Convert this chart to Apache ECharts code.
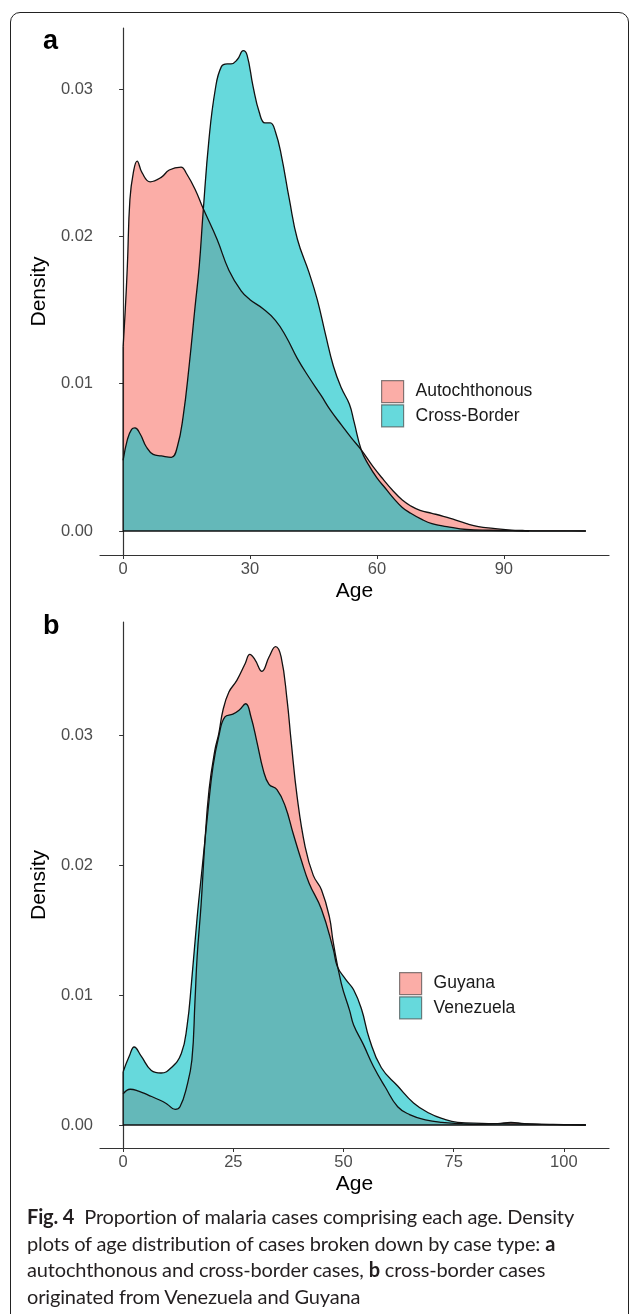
<!DOCTYPE html>
<html>
<head>
<meta charset="utf-8">
<script src="https://cdn.jsdelivr.net/npm/echarts@6/dist/echarts.min.js"></script>
<style>
  html, body { margin: 0; padding: 0; background: #fff; }
  #wrap { position: relative; width: 630px; height: 1314px; overflow: hidden; }
  #chart { position: absolute; left: 0; top: 0; width: 630px; height: 1314px; }
  #frame { position: absolute; left: 10px; top: 12px; width: 619px; height: 1320px;
           border: 1.3px solid #222; border-radius: 10px; box-sizing: border-box; pointer-events: none; }
  #cap { position: absolute; left: 27px; top: 1203px; width: 600px; font-family: Lato, "Noto Sans", sans-serif;
         font-size: 20px; letter-spacing: -0.15px; line-height: 26.7px; color: #231f20; white-space: nowrap; }
</style>
</head>
<body>
<div id="wrap">
  <div id="frame"></div>
  <div id="chart"></div>
  <div id="cap"><b>Fig. 4</b>&nbsp; Proportion of malaria cases comprising each age. Density<br>plots of age distribution of cases broken down by case type: <b>a</b><br>autochthonous and cross-border cases, <b>b</b> cross-border cases<br>originated from Venezuela and Guyana</div>
</div>
<script>
// panel a : autochthonous vs cross-border
const ageAuto = [0, 0.5, 1, 1.6, 2.4, 3.3, 4.5, 6.4, 9, 10.9, 13.7, 14.9, 17, 18.9, 22.2, 25, 27.9, 30, 33, 36, 38.5, 41.2, 44, 46.8, 49, 51.6, 54, 56.3, 59, 61.5, 63.9, 66, 68, 70.2, 73, 75.7, 78, 81.2, 84, 87.5, 91, 95, 100, 105, 109.4];
const densAuto = [0.0125, 0.0150, 0.0180, 0.0225, 0.0243, 0.0251, 0.0243, 0.0237, 0.0240, 0.0245, 0.0247, 0.0243, 0.0232, 0.0219, 0.0198, 0.0177, 0.0163, 0.0157, 0.0151, 0.0143, 0.0132, 0.0117, 0.0104, 0.0092, 0.0082, 0.0072, 0.0063, 0.0055, 0.0044, 0.0035, 0.0027, 0.0021, 0.0017, 0.0014, 0.0012, 0.0010, 0.0008, 0.0005, 0.0003, 0.00018, 0.00008, 0.00003, 0.00001, 0.000005, 0];
const ageCross = [0, 1, 2, 2.8, 4, 5.5, 7.1, 9, 11.4, 12.8, 14.2, 15.6, 17, 18, 18.9, 20.3, 21.8, 23.2, 24.6, 25.5, 27, 28.4, 29.3, 30.7, 32.2, 33.5, 34.8, 36, 37.4, 39.3, 41.2, 44, 45.9, 47.8, 49.7, 51.6, 53.5, 54.6, 56.3, 58, 60, 62, 64, 66, 68, 70.5, 73, 76.5, 81.2, 87, 92, 96];
const densCross = [0.0048, 0.0062, 0.0069, 0.0070, 0.0066, 0.0057, 0.0052, 0.0051, 0.0050, 0.0057, 0.0078, 0.0112, 0.0152, 0.0180, 0.0216, 0.0266, 0.0300, 0.0315, 0.0317, 0.0317, 0.0320, 0.0326, 0.0323, 0.0302, 0.0284, 0.0277, 0.0277, 0.0271, 0.0255, 0.0225, 0.0198, 0.0175, 0.0157, 0.0134, 0.0112, 0.0097, 0.0086, 0.0074, 0.0055, 0.0045, 0.0036, 0.0029, 0.0022, 0.0016, 0.0012, 0.0008, 0.0005, 0.0003, 0.0001, 0.00005, 0.00002, 0];
const maxAgeA = 109.4;
const xTicksA = [0, 30, 60, 90];

// panel b : Guyana vs Venezuela
const ageGuy = [0, 1.6, 3.5, 5.7, 8.4, 10, 11.8, 12.9, 14.4, 15.6, 16.3, 16.8, 17.7, 18.5, 19.5, 20.8, 21.7, 22.65, 24, 25.8, 27.7, 28.75, 29.9, 31.5, 33.1, 34.6, 35.85, 37.2, 38.1, 39.5, 41.3, 43.15, 45, 46.8, 47.7, 49.5, 51.4, 52.3, 54.5, 56.8, 59.5, 62.3, 65, 68.6, 72.3, 76.8, 80, 85, 88, 91, 95, 100, 105];
const densGuy = [0.0024, 0.00275, 0.0026, 0.0023, 0.0019, 0.0016, 0.0012, 0.0014, 0.0029, 0.0050, 0.0095, 0.0130, 0.0170, 0.0215, 0.0258, 0.0288, 0.0301, 0.0319, 0.0333, 0.0342, 0.0355, 0.0362, 0.0358, 0.0349, 0.0360, 0.0368, 0.0360, 0.0327, 0.0296, 0.0252, 0.0214, 0.0192, 0.0181, 0.0160, 0.0140, 0.0109, 0.0088, 0.0077, 0.0062, 0.0045, 0.0029, 0.0014, 0.0008, 0.0004, 0.0002, 0.0001, 0.00005, 0.0001, 0.0002, 0.0001, 0.00005, 0.00002, 0];
const ageVen = [0, 1.4, 2.5, 4.1, 6.4, 8.6, 10.9, 13.2, 14.5, 15.5, 16.8, 18, 19.2, 20.4, 21.7, 23.1, 24.9, 26.3, 27.8, 29, 30.4, 31.8, 33.1, 34.9, 36.8, 38.6, 40.4, 42.2, 45, 47.7, 48.6, 50.5, 52.3, 54.1, 55.9, 58.6, 62.3, 65.9, 69.5, 72.3, 75.9, 81.4, 86, 90, 95, 100, 105];
const densVen = [0.0041, 0.0053, 0.0060, 0.0053, 0.0042, 0.0040, 0.0044, 0.0055, 0.0076, 0.0109, 0.0160, 0.0200, 0.0240, 0.0276, 0.0299, 0.0314, 0.0316, 0.0319, 0.0324, 0.0314, 0.0294, 0.0273, 0.0262, 0.0258, 0.0245, 0.0224, 0.0204, 0.0186, 0.0166, 0.0135, 0.0122, 0.0112, 0.0104, 0.0089, 0.0066, 0.0044, 0.0030, 0.0017, 0.0009, 0.0005, 0.0002, 0.00013, 0.0001, 0.00008, 0.00005, 0.00003, 0];
const maxAgeB = 105;
const xTicksB = [0, 25, 50, 75, 100];

const yTicks = [0, 0.01, 0.02, 0.03];
const namesA = ['Autochthonous', 'Cross-Border'];
const namesB = ['Guyana', 'Venezuela'];

const RED = '#F8766D', CYAN = '#00BFC4';
const FONT = '"Liberation Sans", Arial, sans-serif';

function densSeries(name, ages, dens, color, idx) {
    return {
        name: name, type: 'line', xAxisIndex: idx, yAxisIndex: idx,
        data: ages.map((a, i) => [a, dens[i]]),
        smooth: 0.45, symbol: 'none',
        lineStyle: { color: '#111', width: 1.3 },
        itemStyle: { color: color },
        areaStyle: { color: color, opacity: 0.6 }
    };
}

// polygon closure: left edge of each density and the common baseline
function outline(first, second, maxAge, idx) {
    return {
        type: 'line', xAxisIndex: idx, yAxisIndex: idx, symbol: 'none', silent: true,
        data: [[0, first], [0, 0], [maxAge, 0], [0, 0], [0, second]],
        lineStyle: { color: '#111', width: 1.3 }
    };
}

function xAxis(idx, min, max, ticks) {
    return {
        type: 'value', gridIndex: idx, min: min, max: max,
        name: 'Age', nameLocation: 'middle', nameGap: 26,
        nameTextStyle: { fontSize: 21, color: '#000', fontFamily: FONT },
        axisLine: { onZero: false, lineStyle: { color: '#333', width: 1.2 } },
        axisTick: { customValues: ticks, length: 4, lineStyle: { color: '#333' } },
        axisLabel: { customValues: ticks, fontSize: 16.5, color: '#4d4d4d', fontFamily: FONT, margin: 6 },
        splitLine: { show: false }
    };
}

function yAxis(idx, min, max) {
    return {
        type: 'value', gridIndex: idx, min: min, max: max,
        name: 'Density', nameLocation: 'middle', nameGap: 42,
        nameTextStyle: { fontSize: 21, color: '#000', fontFamily: FONT },
        axisLine: { show: true, lineStyle: { color: '#333', width: 1.2 } },
        axisTick: { show: true, customValues: yTicks, length: 4, lineStyle: { color: '#333' } },
        axisLabel: { customValues: yTicks, fontSize: 16.5, color: '#4d4d4d', fontFamily: FONT, margin: 7,
                     formatter: v => v.toFixed(2) },
        splitLine: { show: false }
    };
}

function legend(names, colors, left, top) {
    return {
        data: names.map((n, i) => ({ name: n, itemStyle: { color: colors[i], opacity: 0.6, borderColor: '#333', borderWidth: 1.2 } })),
        orient: 'vertical', left: left, top: top, padding: 0,
        icon: 'rect', itemWidth: 22, itemHeight: 22, itemGap: 1, selectedMode: false,
        textStyle: { fontSize: 17.5, color: '#1a1a1a', fontFamily: FONT, padding: [0, 0, 0, 7] }
    };
}

const chart = echarts.init(document.getElementById('chart'));
chart.setOption({
    animation: false,
    grid: [
        { left: 100, top: 28, width: 509, height: 527 },
        { left: 100, top: 622, width: 509, height: 526 }
    ],
    xAxis: [
        xAxis(0, -0.05 * maxAgeA, maxAgeA * 1.05, xTicksA),
        xAxis(1, -0.05 * maxAgeB, maxAgeB * 1.05, xTicksB)
    ],
    yAxis: [
        yAxis(0, -0.00163, 0.03414),
        yAxis(1, -0.00177, 0.03869)
    ],
    legend: [
        legend(namesA, [RED, CYAN], 381, 380),
        legend(namesB, [RED, CYAN], 399, 972)
    ],
    graphic: [
        { type: 'text', left: 43, top: 28, style: { text: 'a', fontSize: 27, fontWeight: 'bold', fontFamily: FONT, fill: '#000' } },
        { type: 'text', left: 43, top: 613, style: { text: 'b', fontSize: 27, fontWeight: 'bold', fontFamily: FONT, fill: '#000' } }
    ],
    series: [
        densSeries(namesA[0], ageAuto, densAuto, RED, 0),
        densSeries(namesA[1], ageCross, densCross, CYAN, 0),
        outline(densAuto[0], densCross[0], maxAgeA, 0),
        densSeries(namesB[0], ageGuy, densGuy, RED, 1),
        densSeries(namesB[1], ageVen, densVen, CYAN, 1),
        outline(densGuy[0], densVen[0], maxAgeB, 1)
    ]
});
</script>
</body>
</html>
